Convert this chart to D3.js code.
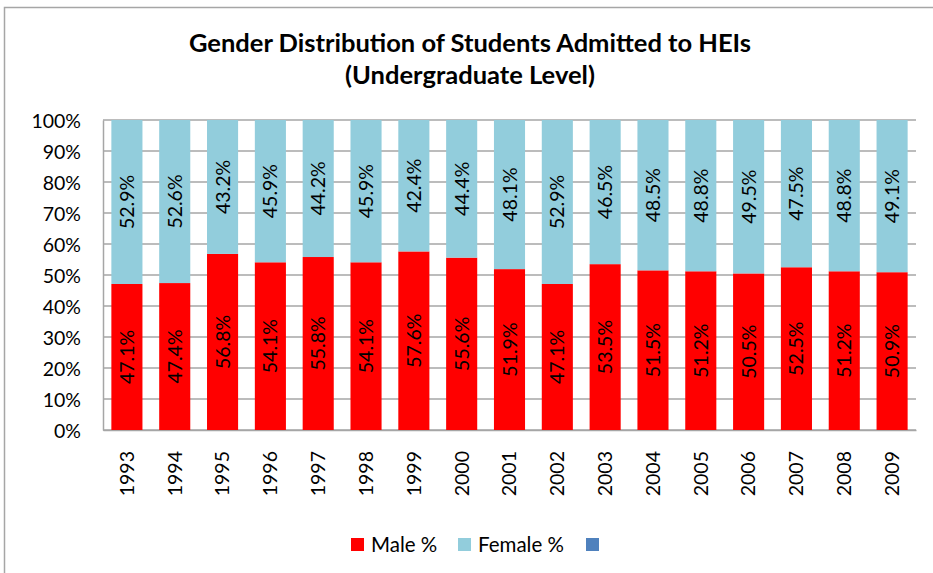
<!DOCTYPE html>
<html>
<head>
<meta charset="utf-8">
<script src="https://d3js.org/d3.v7.min.js"></script>
<style>
  body { margin: 0; background: #fff; }
  text { font-family: Lato, "Open Sans", sans-serif; fill: #000; }
</style>
</head>
<body>
<div class="chart"></div>
<script>
// chart values
var years = ["1993", "1994", "1995", "1996", "1997", "1998", "1999", "2000", "2001",
  "2002", "2003", "2004", "2005", "2006", "2007", "2008", "2009"];
var malePct = [47.1, 47.4, 56.8, 54.1, 55.8, 54.1, 57.6, 55.6, 51.9,
  47.1, 53.5, 51.5, 51.2, 50.5, 52.5, 51.2, 50.9];
var femalePct = [52.9, 52.6, 43.2, 45.9, 44.2, 45.9, 42.4, 44.4, 48.1,
  52.9, 46.5, 48.5, 48.8, 49.5, 47.5, 48.8, 49.1];
var yTicks = [0, 10, 20, 30, 40, 50, 60, 70, 80, 90, 100];
var seriesNames = ["Male %", "Female %", ""];
var seriesColors = ["#ff0000", "#92cddc", "#4f81bd"];

var svgWidth = 933;
var svgHeight = 573;

var margin = {
  top: 120,
  right: 17,
  bottom: 143,
  left: 103
};

var width = svgWidth - margin.left - margin.right;
var height = svgHeight - margin.top - margin.bottom;

var svg = d3.select(".chart")
  .append("svg")
  .attr("width", svgWidth)
  .attr("height", svgHeight);

// outer chart frame
svg.append("rect")
  .attr("x", 4.5)
  .attr("y", 7.5)
  .attr("width", svgWidth + 20)
  .attr("height", svgHeight + 20)
  .attr("fill", "none")
  .attr("stroke", "#a6a6a6")
  .attr("stroke-width", 1.5);

// title
var title = svg.append("text")
  .attr("x", 470)
  .attr("text-anchor", "middle")
  .style("font-weight", "bold")
  .style("font-size", "25.5px");
title.append("tspan").attr("x", 470).attr("y", 52).text("Gender Distribution of Students Admitted to HEIs");
title.append("tspan").attr("x", 470).attr("y", 84).text("(Undergraduate Level)");

var chartGroup = svg.append("g")
  .attr("transform", `translate(${margin.left}, ${margin.top})`);

var xScale = d3.scaleBand()
  .domain(years)
  .range([0, width])
  .paddingInner(0.35)
  .paddingOuter(0.175);

var yScale = d3.scaleLinear()
  .domain([0, 100])
  .range([height, 0]);

// gridlines (behind bars)
chartGroup.append("g")
  .selectAll("line")
  .data(yTicks)
  .enter()
  .append("line")
  .attr("x1", 0)
  .attr("x2", width)
  .attr("y1", d => yScale(d))
  .attr("y2", d => yScale(d))
  .attr("stroke", "#a6a6a6")
  .attr("stroke-width", 1.5);

// y axis
var leftAxis = d3.axisLeft(yScale)
  .tickValues(yTicks)
  .tickFormat(d => d + "%")
  .tickSize(0)
  .tickPadding(22);

var yAxis = chartGroup.append("g").call(leftAxis);
yAxis.select(".domain").attr("stroke", "#a6a6a6").attr("stroke-width", 1.5);
yAxis.selectAll("text").style("font-size", "19.5px").attr("dy", "0.36em");

// x axis
var bottomAxis = d3.axisBottom(xScale).tickSize(0);
var xAxis = chartGroup.append("g")
  .attr("transform", `translate(0, ${height})`)
  .call(bottomAxis);
xAxis.select(".domain").attr("stroke", "#a6a6a6").attr("stroke-width", 1.5);
xAxis.selectAll("text")
  .style("font-size", "19.5px")
  .attr("transform", "rotate(-90)")
  .attr("text-anchor", "end")
  .attr("x", -21)
  .attr("y", 0)
  .attr("dy", "0.35em");

// stacked bars
var rows = years.map((y, i) => ({ year: y, male: malePct[i], female: femalePct[i] }));
var stacked = d3.stack().keys(["male", "female"])(rows);

var layers = chartGroup.selectAll(".layer")
  .data(stacked)
  .enter()
  .append("g")
  .attr("fill", (d, i) => seriesColors[i]);

layers.selectAll("rect")
  .data(d => d)
  .enter()
  .append("rect")
  .attr("x", d => xScale(d.data.year))
  .attr("width", xScale.bandwidth())
  .attr("y", d => yScale(d[1]))
  .attr("height", d => yScale(d[0]) - yScale(d[1]));

// value labels
layers.selectAll("text")
  .data((d) => d.map(v => ({ v: v, key: d.key })))
  .enter()
  .append("text")
  .attr("transform", d => {
    var cx = xScale(d.v.data.year) + xScale.bandwidth() / 2;
    var cy = (yScale(d.v[0]) + yScale(d.v[1])) / 2;
    return `translate(${cx}, ${cy}) rotate(-90)`;
  })
  .attr("text-anchor", "middle")
  .attr("dy", "0.36em")
  .style("font-size", "19.5px")
  .text(d => d.v.data[d.key].toFixed(1) + "%");

// legend
var legendX = [351, 458, 586];
var legend = svg.append("g");
seriesNames.forEach((name, i) => {
  legend.append("rect")
    .attr("x", legendX[i])
    .attr("y", 538)
    .attr("width", 13)
    .attr("height", 13)
    .attr("fill", seriesColors[i]);
  legend.append("text")
    .attr("x", legendX[i] + 20)
    .attr("y", 545)
    .attr("dy", "0.36em")
    .style("font-size", "20.5px")
    .text(name);
});
</script>
</body>
</html>
